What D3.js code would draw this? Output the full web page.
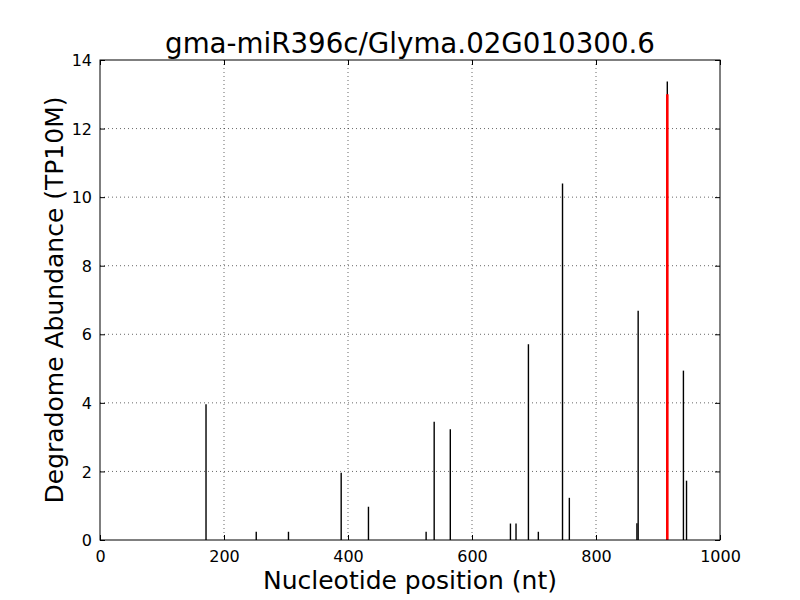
<!DOCTYPE html>
<html>
<head>
<meta charset="utf-8">
<script src="https://cdn.jsdelivr.net/npm/d3@7"></script>
<style>
  body { margin: 0; background: #fff; }
  svg { display: block; font-family: "DejaVu Sans", sans-serif; }
</style>
</head>
<body>
<svg id="chart" width="800" height="600"></svg>
<script>
const title = "gma-miR396c/Glyma.02G010300.6";
const positions = [171, 252, 304, 389, 433, 526, 539, 565, 662, 671, 691, 707, 746, 757, 866, 868, 915, 941, 946];
const abundances = [3.96, 0.24, 0.24, 1.96, 0.97, 0.24, 3.45, 3.23, 0.48, 0.48, 5.71, 0.24, 10.40, 1.23, 0.49, 6.69, 13.37, 4.94, 1.73];
const targetPosition = [915];
const targetAbundance = [13.0];
const xTicks = [0, 200, 400, 600, 800, 1000];
const yTicks = [0, 2, 4, 6, 8, 10, 12, 14];

const svg = d3.select("#chart");
const m = {left: 100, right: 720, top: 60, bottom: 540};
const x = d3.scaleLinear().domain([0, 1000]).range([m.left, m.right]);
const y = d3.scaleLinear().domain([0, 14]).range([m.bottom, m.top]);

svg.append("rect").attr("width", 800).attr("height", 600).attr("fill", "#fff");

// grid
const grid = svg.append("g");
xTicks.slice(1, -1).forEach(t => {
  grid.append("line").attr("x1", x(t)).attr("x2", x(t)).attr("y1", m.top).attr("y2", m.bottom)
    .attr("stroke", "#000").attr("stroke-width", 0.6).attr("stroke-dasharray", "1,3");
});
yTicks.slice(1, -1).forEach(t => {
  grid.append("line").attr("x1", m.left).attr("x2", m.right).attr("y1", y(t)).attr("y2", y(t))
    .attr("stroke", "#000").attr("stroke-width", 0.6).attr("stroke-dasharray", "1,3");
});

// bars
svg.append("g").selectAll("line").data(positions.map((p, i) => [p, abundances[i]])).join("line")
  .attr("x1", d => x(d[0])).attr("x2", d => x(d[0]))
  .attr("y1", y(0)).attr("y2", d => y(d[1]))
  .attr("stroke", "#000").attr("stroke-width", 1.4);

svg.append("g").selectAll("line").data(targetPosition.map((p, i) => [p, targetAbundance[i]])).join("line")
  .attr("x1", d => x(d[0])).attr("x2", d => x(d[0]))
  .attr("y1", y(0)).attr("y2", d => y(d[1]))
  .attr("stroke", "#ff0000").attr("stroke-width", 2.6);

// axes
const tickLen = 5;
const xb = svg.append("g").attr("transform", `translate(0,${m.bottom})`)
  .call(d3.axisBottom(x).tickValues(xTicks).tickSize(-tickLen).tickPadding(8).tickFormat(d3.format("d")));
const xt = svg.append("g").attr("transform", `translate(0,${m.top})`)
  .call(d3.axisTop(x).tickValues(xTicks).tickSize(-tickLen).tickFormat(""));
const yl = svg.append("g").attr("transform", `translate(${m.left},0)`)
  .call(d3.axisLeft(y).tickValues(yTicks).tickSize(-tickLen).tickPadding(8).tickFormat(d3.format("d")));
const yr = svg.append("g").attr("transform", `translate(${m.right},0)`)
  .call(d3.axisRight(y).tickValues(yTicks).tickSize(-tickLen).tickFormat(""));
[xb, xt, yl, yr].forEach(g => {
  g.selectAll(".domain").remove();
  g.selectAll("line").attr("stroke", "#000").attr("stroke-width", 1);
  g.selectAll("text").attr("font-family", "DejaVu Sans").attr("font-size", 16).attr("fill", "#000");
});
xb.selectAll("text").attr("dy", "0.9em");
yl.selectAll("text").attr("dy", "0.35em");

svg.append("rect").attr("x", m.left).attr("y", m.top).attr("width", m.right - m.left).attr("height", m.bottom - m.top)
  .attr("fill", "none").attr("stroke", "#000").attr("stroke-width", 1);

// labels
svg.append("text").attr("x", (m.left + m.right) / 2).attr("y", 53).attr("text-anchor", "middle")
  .attr("font-size", 27.7).text(title);
svg.append("text").attr("x", (m.left + m.right) / 2).attr("y", 589).attr("text-anchor", "middle")
  .attr("font-size", 25).text("Nucleotide position (nt)");
svg.append("text").attr("transform", `translate(63,${(m.top + m.bottom) / 2}) rotate(-90)`)
  .attr("text-anchor", "middle").attr("font-size", 25).text("Degradome Abundance (TP10M)");
</script>
</body>
</html>
